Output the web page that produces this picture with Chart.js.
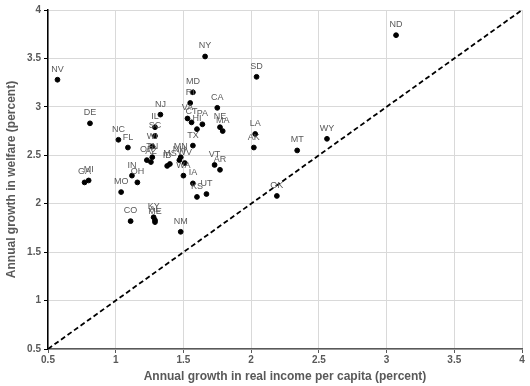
<!DOCTYPE html>
<html>
<head>
<meta charset="utf-8">
<script src="https://cdn.jsdelivr.net/npm/chart.js@4/dist/chart.umd.min.js"></script>
<style>
  body { margin: 0; background: #fff; }
  #wrap { width: 530px; height: 386px; }
</style>
</head>
<body>
<div id="wrap"><canvas id="myChart"></canvas></div>
<script>
'use strict'

// state labels, income growth (x) and welfare growth (y)
const states = ['AL', 'AK', 'AZ', 'AR', 'CA', 'CO', 'CT', 'DE', 'FL', 'GA',
  'HI', 'ID', 'IL', 'IN', 'IA', 'KS', 'KY', 'LA', 'ME', 'MD',
  'MA', 'MI', 'MN', 'MS', 'MO', 'MT', 'NE', 'NV', 'NH', 'NJ',
  'NM', 'NY', 'NC', 'ND', 'OH', 'OK', 'OR', 'PA', 'RI', 'SC',
  'SD', 'TN', 'TX', 'UT', 'VT', 'VA', 'WA', 'WV', 'WI', 'WY'];
const incomeGrowth = [1.29, 2.02, 1.26, 1.77, 1.75, 1.11, 1.56, 0.81, 1.09, 0.77,
  1.60, 1.38, 1.29, 1.12, 1.57, 1.60, 1.28, 2.03, 1.29, 1.57,
  1.79, 0.80, 1.48, 1.40, 1.04, 2.34, 1.77, 0.57, 1.47, 1.33,
  1.48, 1.66, 1.02, 3.07, 1.16, 2.19, 1.23, 1.64, 1.55, 1.29,
  2.04, 1.27, 1.57, 1.67, 1.73, 1.53, 1.50, 1.51, 1.27, 2.56];
const welfareGrowth = [1.83, 2.58, 2.43, 2.35, 2.99, 1.82, 2.84, 2.83, 2.58, 2.22,
  2.77, 2.39, 2.79, 2.29, 2.21, 2.07, 1.86, 2.72, 1.81, 3.15,
  2.75, 2.24, 2.48, 2.41, 2.12, 2.55, 2.79, 3.28, 2.45, 2.92,
  1.71, 3.52, 2.66, 3.74, 2.22, 2.08, 2.45, 2.82, 3.04, 2.70,
  3.31, 2.48, 2.60, 2.10, 2.40, 2.88, 2.29, 2.42, 2.59, 2.67];
const axisTicks = [0.5, 1, 1.5, 2, 2.5, 3, 3.5, 4];
const equalLine = [0.5, 4];

const gray = '#595959';

let points = [];
for (let i = 0; i < states.length; i++) {
  points.push({ x: incomeGrowth[i], y: welfareGrowth[i] });
}

// draw the state code above each dot
const pointLabels = {
  id: 'pointLabels',
  afterDatasetsDraw(chart) {
    let ctx = chart.ctx;
    let meta = chart.getDatasetMeta(0);
    ctx.save();
    ctx.font = '9px "Liberation Sans", Arial, sans-serif';
    ctx.fillStyle = gray;
    ctx.textAlign = 'center';
    ctx.textBaseline = 'middle';
    meta.data.forEach(function (pt, i) {
      ctx.fillText(states[i], pt.x, pt.y - 10.5);
    });
    ctx.restore();
  }
};

let tickFont = { family: '"Liberation Sans", Arial, sans-serif', size: 10, weight: 'bold' };
let titleFont = { family: '"Liberation Sans", Arial, sans-serif', size: 12, weight: 'bold' };

let ctx = document.getElementById('myChart').getContext('2d');
// eslint-disable-next-line no-unused-vars
let chart = new Chart(ctx, {
  type: 'scatter',
  data: {
    datasets: [{
      label: 'States',
      data: points,
      backgroundColor: '#000',
      borderColor: '#000',
      pointRadius: 2.4,
      pointHoverRadius: 2.4
    },
    {
      label: '45 degree',
      type: 'line',
      data: equalLine.map(v => ({ x: v, y: v })),
      borderColor: '#000',
      borderWidth: 1.8,
      borderDash: [5, 3],
      pointRadius: 0,
      fill: false
    }]
  },
  options: {
    responsive: true,
    maintainAspectRatio: false,
    animation: false,
    events: [],
    layout: { padding: { top: 10, right: 8, left: 0, bottom: 0 } },
    plugins: {
      legend: { display: false },
      tooltip: { enabled: false }
    },
    scales: {
      x: {
        type: 'linear',
        min: 0.5,
        max: 4,
        afterBuildTicks: s => { s.ticks = axisTicks.map(v => ({ value: v })); },
        afterFit: s => { s.height = 37; },
        grid: { color: '#d9d9d9', tickLength: 4, tickColor: gray },
        border: { color: '#595959', width: 1.5 },
        ticks: { color: gray, font: tickFont, padding: 1, maxRotation: 0, callback: v => String(v) },
        title: {
          display: true,
          text: 'Annual growth in real income per capita (percent)',
          color: gray,
          font: titleFont,
          padding: { top: 0, bottom: 2 }
        }
      },
      y: {
        type: 'linear',
        min: 0.5,
        max: 4,
        afterBuildTicks: s => { s.ticks = axisTicks.map(v => ({ value: v })); },
        afterFit: s => { s.width = 48; },
        grid: { color: '#d9d9d9', tickLength: 4, tickColor: '#000' },
        border: { color: '#000', width: 1.5 },
        ticks: { color: gray, font: tickFont, padding: 3, callback: v => String(v) },
        title: {
          display: true,
          text: 'Annual growth in welfare (percent)',
          color: gray,
          font: titleFont,
          padding: { top: 4, bottom: 0 }
        }
      }
    }
  },
  plugins: [pointLabels]
});
</script>
</body>
</html>
